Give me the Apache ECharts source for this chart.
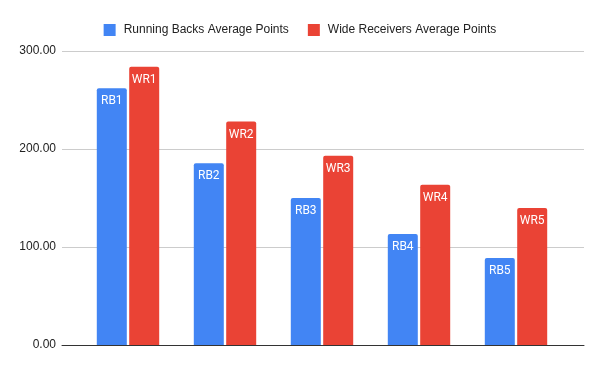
<!DOCTYPE html>
<html>
<head>
<meta charset="utf-8">
<script src="https://cdn.jsdelivr.net/npm/echarts@6/dist/echarts.min.js"></script>
<style>html,body{margin:0;padding:0;background:#fff}#c{width:600px;height:371px}</style>
</head>
<body>
<div id="c"></div>
<script>
var categories = ['1', '2', '3', '4', '5'];
var rbLabels = ['RB1', 'RB2', 'RB3', 'RB4', 'RB5'];
var wrLabels = ['WR1', 'WR2', 'WR3', 'WR4', 'WR5'];
var rbValues = [262, 185.5, 150, 113.3, 88.8];
var wrValues = [284, 228, 193.2, 163.6, 139.8];
var yTicks = [0, 100, 200, 300];
var seriesNames = ['Running Backs Average Points', 'Wide Receivers Average Points'];

var chart = echarts.init(document.getElementById('c'));
var font = 'Arial, "Liberation Sans", sans-serif';
function lbl(arr) {
  return {
    show: true, position: 'insideTop', distance: 7, color: '#fff',
    fontFamily: 'Roboto, Arial, sans-serif', fontSize: 12,
    formatter: function (p) { return arr[p.dataIndex]; }
  };
}
chart.setOption({
  animation: false,
  backgroundColor: '#fff',
  legend: {
    top: 19, left: 'center', itemWidth: 12, itemHeight: 12, itemGap: 19,
    icon: 'rect',
    textStyle: { fontFamily: font, fontSize: 12, color: '#222', padding: [0, 0, 0, 3] },
    data: seriesNames
  },
  grid: [
    { left: 62, right: 16, top: 51, bottom: 26 },
    { left: 79.5, right: 35.5, top: 51, bottom: 26 }
  ],
  xAxis: [
    { gridIndex: 0, type: 'category', data: categories, axisTick: { show: false }, axisLabel: { show: false },
      axisLine: { lineStyle: { color: '#333', width: 1 } } },
    { gridIndex: 1, type: 'category', data: categories, axisTick: { show: false }, axisLabel: { show: false },
      axisLine: { show: false } }
  ],
  yAxis: [
    { gridIndex: 0, type: 'value', min: yTicks[0], max: yTicks[yTicks.length - 1], interval: 100,
      axisLine: { show: false }, axisTick: { show: false },
      axisLabel: { margin: 6, color: '#222', fontFamily: font, fontSize: 12,
        formatter: function (v) { return v.toFixed(2); } },
      splitLine: { lineStyle: { color: '#ccc', width: 1 } } },
    { gridIndex: 1, type: 'value', min: yTicks[0], max: yTicks[yTicks.length - 1], interval: 100,
      show: false, splitLine: { show: false } }
  ],
  series: [
    { name: seriesNames[0], type: 'bar', xAxisIndex: 1, yAxisIndex: 1, data: rbValues,
      barWidth: 30, barGap: '8%', itemStyle: { color: '#4285F4', borderRadius: [2, 2, 0, 0] }, label: lbl(rbLabels) },
    { name: seriesNames[1], type: 'bar', xAxisIndex: 1, yAxisIndex: 1, data: wrValues,
      barWidth: 30, barGap: '8%', itemStyle: { color: '#EA4335', borderRadius: [2, 2, 0, 0] }, label: lbl(wrLabels) }
  ]
});
</script>
</body>
</html>
